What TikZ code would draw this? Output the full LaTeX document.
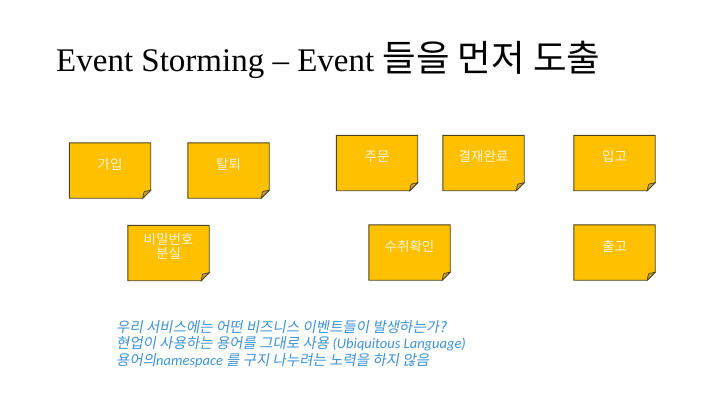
\documentclass[tikz,border=0pt]{standalone}
\usepackage{fontspec}
\setmainfont{Liberation Serif}
\newfontfamily\krfont{Noto Sans CJK KR}
\newfontfamily\kritfont{Noto Sans CJK KR}[FakeSlant=0.18]
\newfontfamily\latitfont{Carlito}
\definecolor{stickygold}{HTML}{FFC000}
\definecolor{stickyedge}{HTML}{4A4420}
\definecolor{foldgold}{HTML}{C9A03A}
\definecolor{noteblue}{HTML}{3E93D8}
\definecolor{stickyink}{HTML}{FFF6DC}
\tikzset{
  stickybox/.style={draw=none, minimum width=81pt, minimum height=55pt, inner sep=0pt},
  stickyshape/.style={fill=stickygold, draw=stickyedge, line width=0.9pt, line join=miter},
  foldshape/.style={fill=foldgold, draw=stickyedge, line width=0.7pt},
  stickytext/.style={text=stickyink, font=\krfont\fontsize{13.5}{14}\selectfont, align=center, inner sep=0pt},
  titletext/.style={anchor=base west, inner sep=0pt, font=\fontsize{33}{36}\selectfont},
  notetext/.style={anchor=north west, inner sep=0pt, align=left, text=noteblue, font=\kritfont\fontsize{14.5}{16.5}\selectfont}
}
\newcommand{\stickynote}[4]{%
  \node[stickybox] (#1) at (#2,#3) {};
  \path[stickyshape] (#1.north west) -- (#1.north east) -- ([yshift=8pt]#1.south east)
    -- ([xshift=-8pt]#1.south east) -- (#1.south west) -- cycle;
  \path[foldshape] ([yshift=8pt]#1.south east) .. controls ([shift={(-5pt,7pt)}]#1.south east) .. ([shift={(-6.5pt,6.5pt)}]#1.south east)
    .. controls ([shift={(-7pt,5pt)}]#1.south east) .. ([xshift=-8pt]#1.south east) -- cycle;
  \node[stickytext] (#1-text) at ([yshift=6.5pt]#1.center) {#4};
}
\begin{document}
\begin{tikzpicture}[x=1pt,y=-1pt]
\useasboundingbox (0,0) rectangle (720,405);
\fill[white] (0,0) rectangle (720,405);
\node[titletext] (title) at (56,71) {Event Storming -- Event {\krfont\fontsize{36.5}{40}\selectfont 들을 먼저 도출}};
\stickynote{join}{110}{170.5}{가입}
\stickynote{leave}{228.5}{170.5}{탈퇴}
\stickynote{pwlost}{168.5}{253}{비밀번호\\분실}
\stickynote{order}{377}{163}{주문}
\stickynote{paid}{483.5}{163}{결재완료}
\stickynote{stockin}{614.5}{163}{입고}
\stickynote{received}{409.5}{252.5}{수취확인}
\stickynote{stockout}{614.5}{252.5}{출고}
\node[notetext] (note) at (116,320) {우리 서비스에는 어떤 비즈니스 이벤트들이 발생하는가?\\
현업이 사용하는 용어를 그대로 사용 {\latitfont\itshape (Ubiquitous Language)}\\
용어의{\latitfont\itshape namespace} 를 구지 나누려는 노력을 하지 않음};
\end{tikzpicture}
\end{document}
